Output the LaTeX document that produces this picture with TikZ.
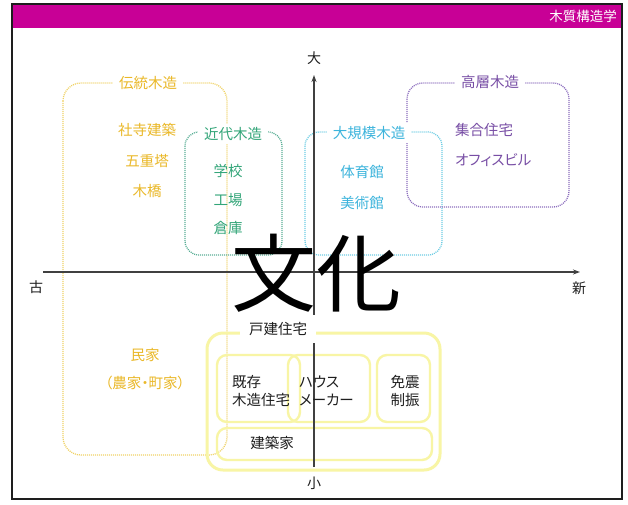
\documentclass[tikz,border=0pt]{standalone}
\usepackage{fontspec}
\setmainfont{Noto Sans CJK JP}[RawFeature=+palt]
\usetikzlibrary{arrows.meta}
\definecolor{barmag}{RGB}{200,0,150}
\definecolor{goldtxt}{RGB}{234,184,40}
\definecolor{goldln}{RGB}{240,210,100}
\definecolor{greentxt}{RGB}{50,165,120}
\definecolor{greenln}{RGB}{90,175,150}
\definecolor{cyantxt}{RGB}{60,180,220}
\definecolor{cyanln}{RGB}{110,205,228}
\definecolor{purptxt}{RGB}{120,78,165}
\definecolor{purpln}{RGB}{140,110,190}
\definecolor{paleyel}{RGB}{248,245,165}
\definecolor{ink}{RGB}{30,30,30}
\tikzset{
  dotbox/.style={line width=1.3pt, dash pattern=on 1pt off 1pt, rounded corners=18pt},
  paleouter/.style={draw=paleyel, line width=3pt, rounded corners=16pt},
  paleinner/.style={draw=paleyel, line width=2.4pt, rounded corners=10pt},
  axisline/.style={draw=ink!85, line width=1.3pt, -{Stealth[length=7pt,width=5pt]}},
  lbl/.style={font=\fontsize{14}{14}\selectfont, inner sep=1pt},
  title/.style={font=\fontsize{14.5}{14.5}\selectfont, fill=white, inner xsep=6pt, inner ysep=3pt},
  item/.style={font=\fontsize{14.5}{14.5}\selectfont, inner sep=0pt},
  blk/.style={font=\fontsize{14.5}{18}\selectfont, text=ink, inner sep=0pt, align=left},
}
\begin{document}
\begin{tikzpicture}[x=1pt,y=-1pt]
\useasboundingbox (0,0) rectangle (628,504);
\fill[white] (0,0) rectangle (628,504);
% header bar
\fill[barmag] (12,4) rectangle (622,28);
\node[anchor=east, text=white, font=\fontsize{13.5}{13.5}\selectfont, inner sep=0pt] (head) at (617,16) {木質構造学};
\draw[line width=1.6pt, draw=ink] (12,4) rectangle (622,499);

% category boxes
\draw[dotbox, draw=goldln] (63,83) rectangle (227,455);
\draw[dotbox, draw=greenln, rounded corners=14pt] (185,132) rectangle (282,255);
\draw[dotbox, draw=cyanln, rounded corners=14pt] (305,132) rectangle (442,255);
\draw[dotbox, draw=purpln, rounded corners=16pt] (407,83) rectangle (569,207);

% detached houses boxes
\draw[paleouter] (207,333) rectangle (440,470);
\draw[paleinner] (217,355) rectangle (300,422);
\draw[paleinner] (288,355) rectangle (370,422);
\draw[paleinner] (377,355) rectangle (430,422);
\draw[paleinner] (217,428) rectangle (432,460);

% axes
\coordinate (xl) at (43,272);
\coordinate (xr) at (580,272);
\coordinate (yb) at (314,467);
\coordinate (yt) at (314,75);
\draw[axisline] (xl) -- (xr);
\draw[axisline] (yb) -- (yt);
\node[lbl, text=ink] (big) at (314,58) {大};
\node[lbl, text=ink] (small) at (314,483) {小};
\node[lbl, text=ink] (old) at (36,287) {古};
\node[lbl, text=ink] (new) at (579,288) {新};

% big word
\node[font=\fontsize{85}{85}\selectfont, text=black, inner sep=0pt] (bunka) at (316,273) {文化};

% titles
\node[title, text=goldtxt] (tTrad) at (148,83) {伝統木造};
\node[title, text=greentxt] (tMod) at (233,134) {近代木造};
\node[title, text=cyantxt] (tLarge) at (369,133) {大規模木造};
\node[title, text=purptxt] (tHigh) at (490,82) {高層木造};
\node[title, text=ink, inner ysep=7pt, inner xsep=9pt] (tHouse) at (278,329) {戸建住宅};

% traditional items
\node[item, text=goldtxt] (i1) at (147,130) {社寺建築};
\node[item, text=goldtxt] (i2) at (147,161) {五重塔};
\node[item, text=goldtxt] (i3) at (147,191) {木橋};
\node[item, text=goldtxt] (i4) at (145,355) {民家};
\node[item, text=goldtxt] (i5) at (145,383) {（農家・町家）};

% modern items
\node[item, text=greentxt] (m1) at (228,171) {学校};
\node[item, text=greentxt] (m2) at (228,200) {工場};
\node[item, text=greentxt] (m3) at (228,228) {倉庫};

% large-scale items
\node[item, text=cyantxt] (l1) at (362,172) {体育館};
\node[item, text=cyantxt] (l2) at (362,203) {美術館};

% high-rise items
\node[item, text=purptxt, anchor=west] (h1) at (455,130) {集合住宅};
\node[item, text=purptxt, anchor=west] (h2) at (455,160) {オフィスビル};

% house items
\node[blk, anchor=west] (d1) at (232,391) {既存\\木造住宅};
\node[blk, anchor=west] (d2) at (299,391) {ハウス\\メーカー};
\node[blk, anchor=center, align=center] (d3) at (405,391) {免震\\制振};
\node[blk, anchor=center] (d4) at (272,443) {建築家};
\end{tikzpicture}
\end{document}
